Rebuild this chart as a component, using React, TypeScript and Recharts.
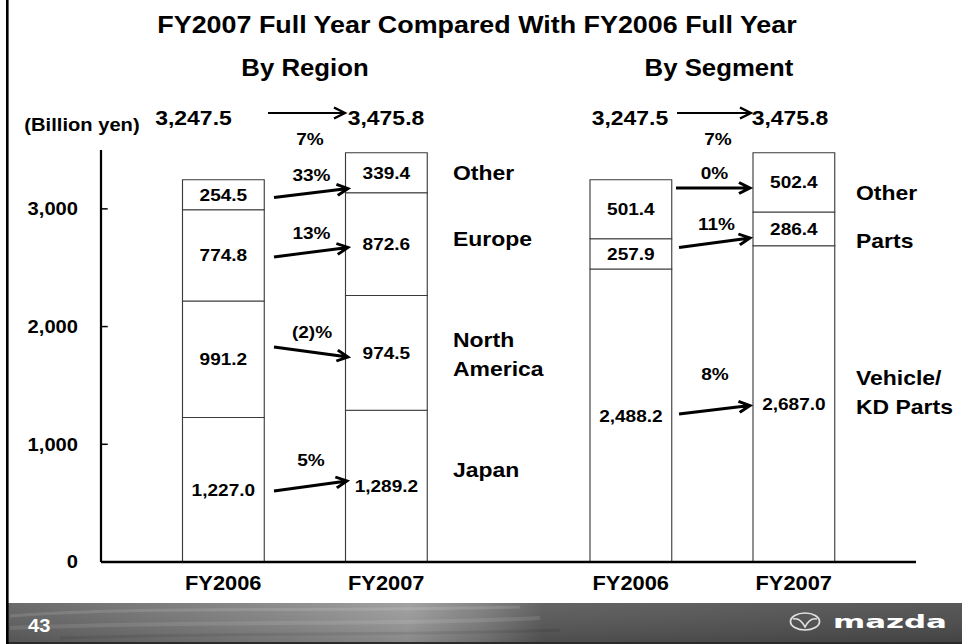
import React from 'react';
import { BarChart, Bar, XAxis, YAxis, LabelList } from 'recharts';

// ---------- data ----------
const years = ['FY2006', 'FY2007'];
const japan = [1227.0, 1289.2];
const northAmerica = [991.2, 974.5];
const europe = [774.8, 872.6];
const regionOther = [254.5, 339.4];
const vehicleKD = [2488.2, 2687.0];
const parts = [257.9, 286.4];
const segmentOther = [501.4, 502.4];
const totals = ['3,247.5', '3,475.8'];
const totalGrowth = '7%';
const regionNames = ['Japan', 'North\nAmerica', 'Europe', 'Other'];
const regionGrowth = ['5%', '(2)%', '13%', '33%'];
const segmentNames = ['Vehicle/\nKD Parts', 'Parts', 'Other'];
const segmentGrowth = ['8%', '11%', '0%'];
const yTicks = [0, 1000, 2000, 3000];
const titleText = 'FY2007 Full Year Compared With FY2006 Full Year';
const unitText = '(Billion yen)';
const slideNo = '43';

// column layout of the category axis: which slot holds which bar
const slots: (null | [string, number])[] = [null, ['r', 0], null, ['r', 1], null, null, ['s', 0], null, ['s', 1], null];

const data = slots.map((slot, i) => {
  const row: any = { key: 'c' + i, label: '' };
  if (slot) {
    const [g, k] = slot;
    row.label = years[k];
    if (g === 'r') {
      row.japan = japan[k];
      row.na = northAmerica[k];
      row.europe = europe[k];
      row.rOther = regionOther[k];
    } else {
      row.vehicle = vehicleKD[k];
      row.parts = parts[k];
      row.sOther = segmentOther[k];
    }
  }
  return row;
});
const labelByKey: Record<string, string> = {};
data.forEach((d) => (labelByKey[d.key] = d.label));

// ---------- layout ----------
const W = 962;
const H = 644;
const INNER_W = 859; // slide is 4:3, stretched horizontally
const S = W / INNER_W;
const sx = (x: number) => x / S;
const FONT = '"Liberation Sans", Arial, Helvetica, sans-serif';

const fmt = (v: any) =>
  v === undefined || v === null || v === ''
    ? ''
    : Number(v).toLocaleString('en-US', { minimumFractionDigits: 1, maximumFractionDigits: 1 });

const labelProps = { fill: '#000', stroke: 'none', fontSize: 17, fontWeight: 'bold', fontFamily: FONT } as any;

function Txt({ x, y, size, anchor = 'middle', fill = '#000', children }: any) {
  const lines = String(children).split('\n');
  return (
    <text x={sx(x)} y={y} fontSize={size} fontWeight="bold" fontFamily={FONT} fill={fill} textAnchor={anchor}>
      {lines.map((l, i) => (
        <tspan key={i} x={sx(x)} dy={i === 0 ? 0 : size * 1.42}>
          {l}
        </tspan>
      ))}
    </text>
  );
}

function Arrow({ x1, y1, x2, y2, w = 2.8 }: any) {
  const dx = x2 - x1;
  const dy = y2 - y1;
  const len = Math.hypot(dx, dy);
  const ux = dx / len;
  const uy = dy / len;
  const hl = 11;
  const hw = 5.5;
  const bx = x2 - ux * hl;
  const by = y2 - uy * hl;
  const p1x = bx - uy * hw;
  const p1y = by + ux * hw;
  const p2x = bx + uy * hw;
  const p2y = by - ux * hw;
  const d = `M${sx(x1)},${y1} L${sx(x2)},${y2} M${sx(p1x)},${p1y} L${sx(x2)},${y2} L${sx(p2x)},${p2y}`;
  return <path d={d} stroke="#000" strokeWidth={w} fill="none" strokeLinejoin="miter" />;
}

// annotation placement (pixels of the slide)
const regionGrowthPos = [
  { tx: 311, ty: 466, a: [274, 491, 347, 481] },
  { tx: 312, ty: 338, a: [274, 347, 348, 357] },
  { tx: 311.5, ty: 239, a: [274, 257, 348, 247.5] },
  { tx: 311.5, ty: 181, a: [274, 197.5, 348, 188.5] },
];
const segmentGrowthPos = [
  { tx: 715, ty: 380, a: [679, 414, 750, 405.5] },
  { tx: 716.5, ty: 230, a: [679, 247.5, 750, 238] },
  { tx: 714.5, ty: 179, a: [676, 188, 750, 188] },
];
const regionNamePos = [
  { x: 453, y: 477 },
  { x: 453, y: 347 },
  { x: 453, y: 246 },
  { x: 453, y: 180 },
];
const segmentNamePos = [
  { x: 856, y: 385 },
  { x: 856, y: 248 },
  { x: 856, y: 200 },
];

export default function App() {
  const axisX = sx(101);
  const rightEnd = sx(916);
  const bottomY = 562;
  const xAxisH = 30;
  return (
    <div style={{ position: 'absolute', left: 0, top: 0, width: W, height: H, background: '#fff', overflow: 'hidden' }}>
      <div
        style={{
          position: 'absolute',
          left: 0,
          top: 0,
          width: INNER_W,
          height: H,
          transform: `scaleX(${S})`,
          transformOrigin: '0 0',
        }}
      >
        <BarChart
          width={INNER_W}
          height={H}
          data={data}
          margin={{ top: 150, right: INNER_W - rightEnd, bottom: H - bottomY - xAxisH, left: 0 }}
          barCategoryGap={0}
          barGap={0}
        >
          <XAxis
            dataKey="key"
            interval={0}
            tickLine={false}
            axisLine={{ stroke: '#000', strokeWidth: 2.5 }}
            tick={{ fill: '#000', fontSize: 19.5, fontWeight: 'bold', fontFamily: FONT }}
            tickFormatter={(v: any) => labelByKey[v] || ''}
            tickMargin={8}
            height={xAxisH}
          />
          <YAxis
            type="number"
            domain={[0, 3500]}
            ticks={yTicks}
            width={axisX}
            tickSize={-6}
            tickMargin={axisX + 6 - sx(78)}
            axisLine={{ stroke: '#000', strokeWidth: 2 }}
            tickLine={{ stroke: '#000', strokeWidth: 1.5 }}
            tick={{ fill: '#000', fontSize: 18, fontWeight: 'bold', fontFamily: FONT }}
            tickFormatter={(v: number) => v.toLocaleString('en-US')}
          />
          {['japan', 'na', 'europe', 'rOther', 'vehicle', 'parts', 'sOther'].map((k) => (
            <Bar key={k} dataKey={k} stackId="a" fill="#fff" stroke="#3a3a3a" strokeWidth={1} isAnimationActive={false}>
              <LabelList dataKey={k} position="center" formatter={fmt} {...labelProps} />
            </Bar>
          ))}
        </BarChart>

        <svg
          width={INNER_W}
          height={H}
          style={{ position: 'absolute', left: 0, top: 0, pointerEvents: 'none' }}
        >
          <defs>
            <linearGradient id="footH" x1="0" y1="0" x2="1" y2="0">
              <stop offset="0" stopColor="#5e5e5e" />
              <stop offset="0.12" stopColor="#6e6e6e" />
              <stop offset="0.3" stopColor="#868686" />
              <stop offset="0.42" stopColor="#9a9a9a" />
              <stop offset="0.5" stopColor="#787878" />
              <stop offset="0.56" stopColor="#565656" />
              <stop offset="1" stopColor="#4a4a4a" />
            </linearGradient>
            <linearGradient id="footV" x1="0" y1="0" x2="0" y2="1">
              <stop offset="0" stopColor="#fff" stopOpacity="0.08" />
              <stop offset="1" stopColor="#000" stopOpacity="0.12" />
            </linearGradient>
          </defs>

          {/* titles */}
          <Txt x={477} y={33} size={24}>{titleText}</Txt>
          <Txt x={305} y={76} size={23}>By Region</Txt>
          <Txt x={719} y={76} size={23}>By Segment</Txt>
          <Txt x={82} y={131} size={18}>{unitText}</Txt>

          {/* totals */}
          <Txt x={193.5} y={125.5} size={20.5}>{totals[0]}</Txt>
          <Txt x={386} y={125.5} size={20.5}>{totals[1]}</Txt>
          <Arrow x1={268} y1={113} x2={345} y2={113} w={2.2} />
          <Txt x={310} y={145} size={17}>{totalGrowth}</Txt>
          <Txt x={630} y={125.5} size={20.5}>{totals[0]}</Txt>
          <Txt x={790} y={125.5} size={20.5}>{totals[1]}</Txt>
          <Arrow x1={677} y1={113} x2={751} y2={113} w={2.2} />
          <Txt x={718} y={145} size={17}>{totalGrowth}</Txt>

          {/* growth arrows */}
          {regionGrowth.map((g, i) => {
            const p = regionGrowthPos[i];
            return (
              <g key={'rg' + i}>
                <Txt x={p.tx} y={p.ty} size={17}>{g}</Txt>
                <Arrow x1={p.a[0]} y1={p.a[1]} x2={p.a[2]} y2={p.a[3]} />
              </g>
            );
          })}
          {segmentGrowth.map((g, i) => {
            const p = segmentGrowthPos[i];
            return (
              <g key={'sg' + i}>
                <Txt x={p.tx} y={p.ty} size={17}>{g}</Txt>
                <Arrow x1={p.a[0]} y1={p.a[1]} x2={p.a[2]} y2={p.a[3]} />
              </g>
            );
          })}

          {/* category names */}
          {regionNames.map((n, i) => (
            <Txt key={'rn' + i} x={regionNamePos[i].x} y={regionNamePos[i].y} size={20.5} anchor="start">{n}</Txt>
          ))}
          {segmentNames.map((n, i) => (
            <Txt key={'sn' + i} x={segmentNamePos[i].x} y={segmentNamePos[i].y} size={20.5} anchor="start">{n}</Txt>
          ))}

          {/* footer */}
          <rect x={sx(8)} y={603} width={sx(962 - 8)} height={41} fill="url(#footH)" />
          <rect x={sx(8)} y={603} width={sx(962 - 8)} height={41} fill="url(#footV)" />
          <path d={`M${sx(10)},616 C${sx(150)},606 ${sx(300)},612 ${sx(520)},607`} stroke="#fff" strokeOpacity={0.12} strokeWidth={3} fill="none" />
          <path d={`M${sx(10)},628 C${sx(200)},620 ${sx(380)},626 ${sx(540)},618`} stroke="#fff" strokeOpacity={0.1} strokeWidth={4} fill="none" />
          <path d={`M${sx(60)},638 C${sx(250)},632 ${sx(400)},636 ${sx(560)},630`} stroke="#000" strokeOpacity={0.08} strokeWidth={3} fill="none" />
          <rect x={sx(8)} y={642} width={sx(962 - 8)} height={2} fill="#2a2a2a" />
          <Txt x={28} y={632} size={18} anchor="start" fill="#fff">{slideNo}</Txt>

          {/* logo */}
          <ellipse cx={sx(805)} cy={621.5} rx={sx(14.5)} ry={8.5} stroke="#e0e0e0" strokeWidth={1.6} fill="none" />
          <path
            d={`M${sx(793)},619 Q${sx(800)},617 ${sx(805)},627 Q${sx(810)},617 ${sx(817)},619`}
            stroke="#e0e0e0"
            strokeWidth={1.5}
            fill="none"
          />
          <text
            x={sx(833)}
            y={628}
            fontSize={17}
            fontWeight="bold"
            fontFamily='"DejaVu Sans", sans-serif'
            fill="#fff"
            textLength={sx(114)}
            lengthAdjust="spacingAndGlyphs"
          >
            mazda
          </text>

          {/* left slide border */}
          <rect x={sx(6)} y={0} width={sx(2.6)} height={H} fill="#000" />
        </svg>
      </div>
    </div>
  );
}
